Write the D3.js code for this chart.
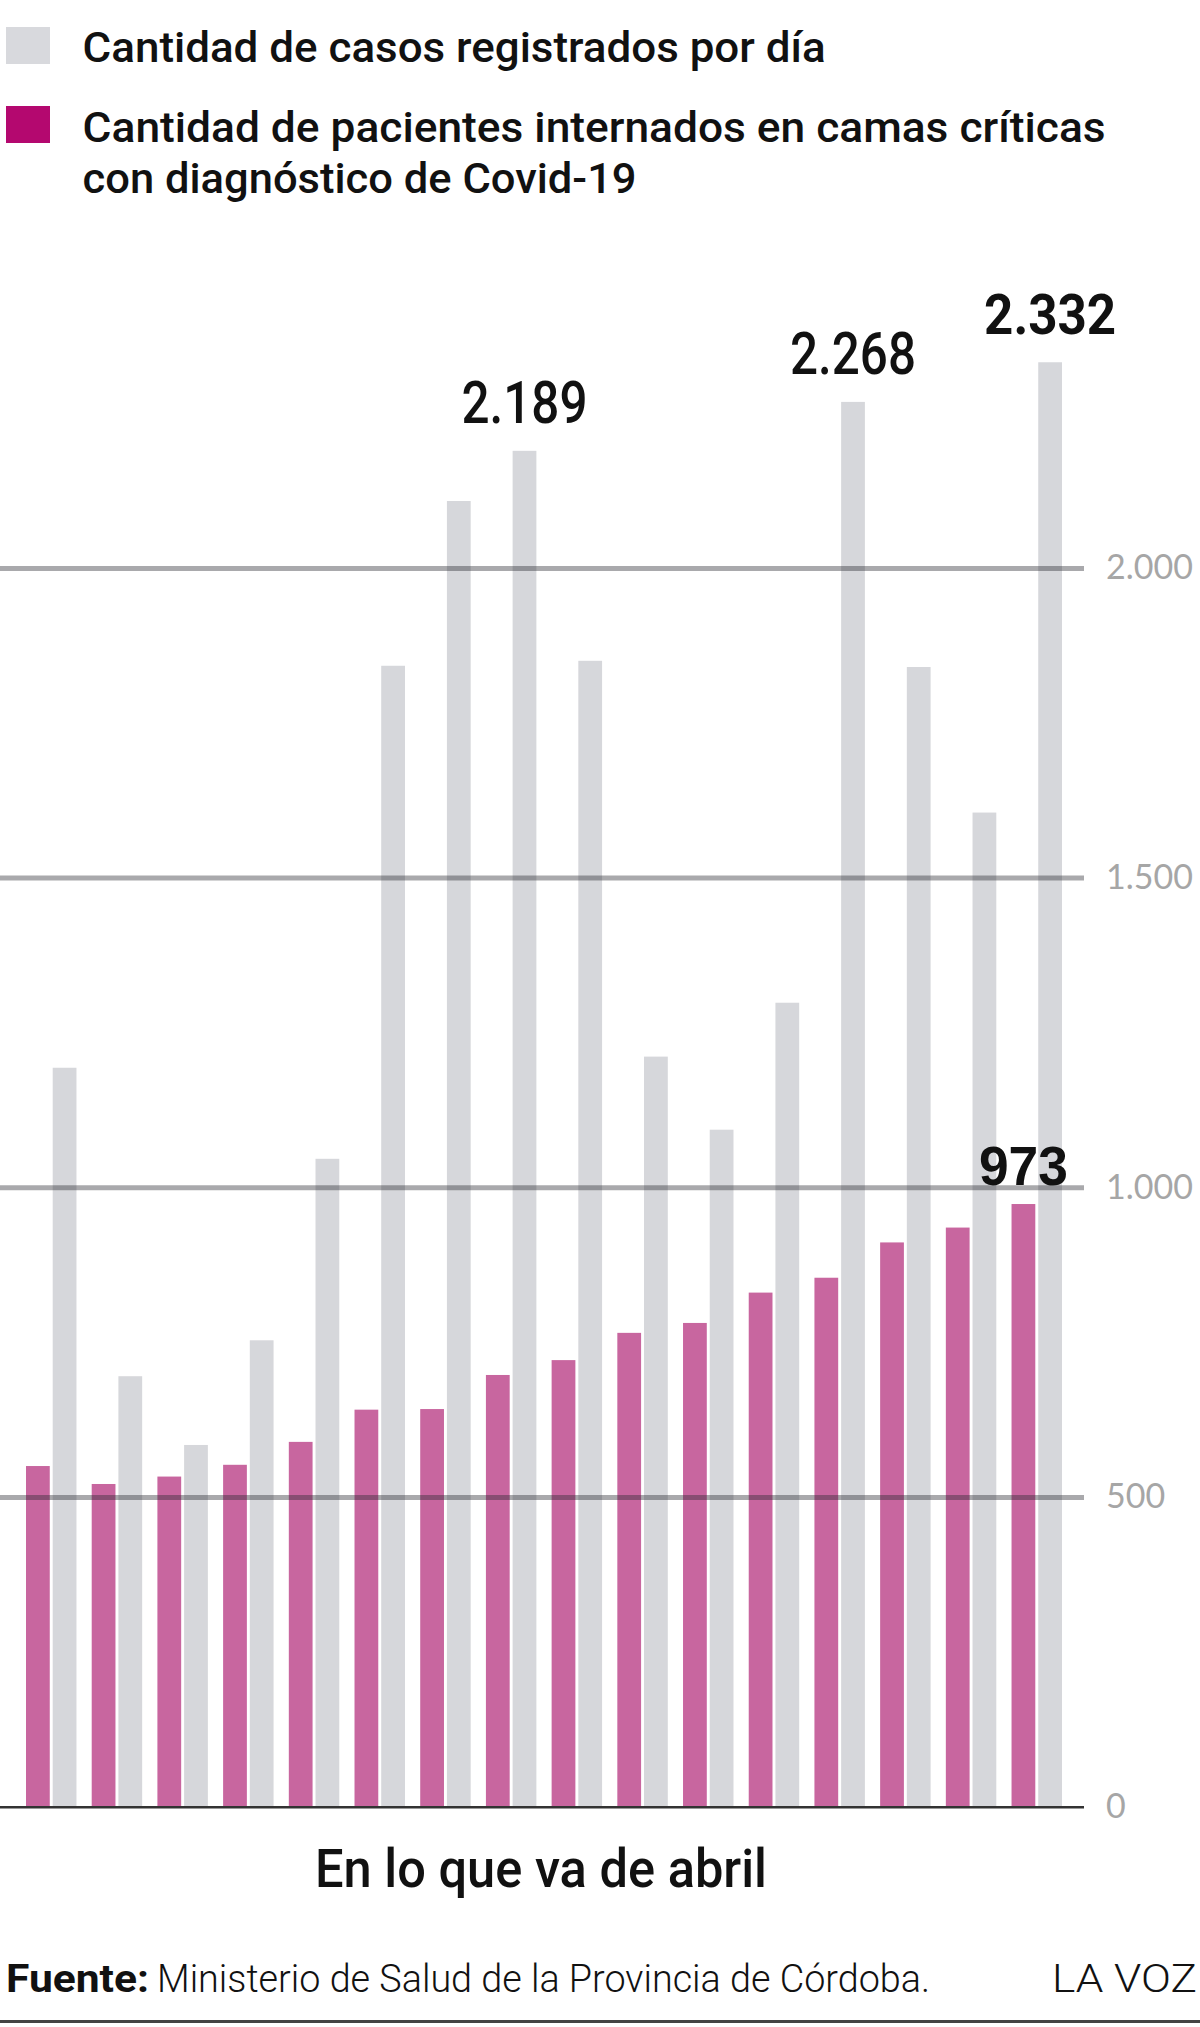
<!DOCTYPE html>
<html>
<head>
<meta charset="utf-8">
<script src="https://cdn.jsdelivr.net/npm/d3@7"></script>
<style>
  body { margin: 0; background: #fff; }
  svg { display: block; }
</style>
</head>
<body>
<div id="chart"></div>
<script>
// días de abril (una barra doble por día)
var days = ["1", "2", "3", "4", "5", "6", "7", "8", "9", "10", "11", "12", "13", "14", "15", "16"];
// casos registrados por día
var cases = [1193, 695, 584, 753, 1046, 1842, 2108, 2189, 1850, 1211, 1093, 1298, 2268, 1840, 1605, 2332];
// pacientes internados en camas críticas
var critical = [550, 521, 533, 552, 589, 641, 642, 697, 721, 765, 781, 830, 854, 911, 935, 973];
// valores destacados con etiqueta
var casesLabelled = ["8", "13", "16"];
var criticalLabelled = ["16"];
var yTicks = [0, 500, 1000, 1500, 2000];

var legendItems = [
  {key: "cases", lines: ["Cantidad de casos registrados por día"]},
  {key: "critical", lines: ["Cantidad de pacientes internados en camas críticas", "con diagnóstico de Covid-19"]}
];
var xTitle = "En lo que va de abril";
var sourceLabel = "Fuente:";
var sourceText = "Ministerio de Salud de la Provincia de Córdoba.";
var brand = "LA VOZ";

var width = 1200, height = 2027;
var colors = {cases: "#d6d7db", critical: "#c8669f", legendCritical: "#b4086f", legendCases: "#d8d9dd"};

var esLocale = d3.formatLocale({decimal: ",", thousands: ".", grouping: [3], currency: ["$", ""]});
var fmt = esLocale.format(",d");

var svg = d3.select("#chart").append("svg").attr("width", width).attr("height", height);

var chartLeft = 0, chartRight = 1084, baseY = 1806.7, topY = 567.9;

var x = d3.scaleBand().domain(days).range([26, 1062]).paddingInner(0.232).paddingOuter(0);
var xInner = d3.scaleBand().domain(["critical", "cases"]).range([0, x.bandwidth()]).paddingInner(0.11);
var y = d3.scaleLinear().domain([0, 2000]).range([baseY, topY]);

// barras grises: casos
svg.append("g").selectAll("rect")
   .data(days).enter().append("rect")
   .attr("x", function(d){ return x(d) + xInner("cases"); })
   .attr("width", xInner.bandwidth())
   .attr("y", function(d, i){ return y(cases[i]); })
   .attr("height", function(d, i){ return baseY - y(cases[i]); })
   .attr("fill", colors.cases);

// barras rosas: camas críticas
svg.append("g").selectAll("rect")
   .data(days).enter().append("rect")
   .attr("x", function(d){ return x(d) + xInner("critical"); })
   .attr("width", xInner.bandwidth())
   .attr("y", function(d, i){ return y(critical[i]); })
   .attr("height", function(d, i){ return baseY - y(critical[i]); })
   .attr("fill", colors.critical);

// eje y a la derecha, con las líneas de grilla encima de las barras
var yAxis = d3.axisRight(y).tickValues(yTicks).tickFormat(fmt)
              .tickSizeInner(-(chartRight - chartLeft)).tickSizeOuter(0).tickPadding(22);
var axisG = svg.append("g").attr("transform", "translate(" + chartRight + ",0)").call(yAxis);
axisG.select(".domain").remove();
axisG.selectAll(".tick line")
     .attr("stroke", "#282830").attr("stroke-opacity", 0.4).attr("stroke-width", 5);
axisG.selectAll(".tick").filter(function(d){ return d === 0; }).select("line")
     .attr("stroke", "#333").attr("stroke-opacity", 1).attr("stroke-width", 2.5);
axisG.selectAll(".tick text")
     .attr("fill", "#a6a6a6").attr("font-family", "Lato, 'Open Sans', sans-serif")
     .attr("font-weight", 400).attr("font-size", 34);

// etiquetas de valores
svg.append("g").selectAll("text")
   .data(casesLabelled).enter().append("text")
   .attr("x", function(d){ return x(d) + xInner("cases") + xInner.bandwidth() / 2; })
   .attr("y", function(d){ return y(cases[days.indexOf(d)]) - 28; })
   .attr("text-anchor", "middle")
   .attr("font-family", "Roboto, 'Liberation Sans', sans-serif")
   .attr("font-weight", function(d, i){ return i === casesLabelled.length - 1 ? 700 : 500; })
   .attr("font-size", function(d, i){ return i === casesLabelled.length - 1 ? 56 : 60; })
   .attr("textLength", function(d, i){ return i === casesLabelled.length - 1 ? 132 : 126; })
   .attr("lengthAdjust", "spacingAndGlyphs")
   .attr("fill", "#111")
   .text(function(d){ return fmt(cases[days.indexOf(d)]); });

svg.append("g").selectAll("text")
   .data(criticalLabelled).enter().append("text")
   .attr("x", function(d){ return x(d) + xInner("critical") + xInner.bandwidth() / 2; })
   .attr("y", function(d){ return y(critical[days.indexOf(d)]) - 19; })
   .attr("text-anchor", "middle")
   .attr("font-family", "'Liberation Sans', Arial, sans-serif")
   .attr("font-weight", 700).attr("font-size", 55)
   .attr("textLength", 89).attr("lengthAdjust", "spacingAndGlyphs")
   .attr("fill", "#111")
   .text(function(d){ return fmt(critical[days.indexOf(d)]); });

// leyenda
var legendTops = [27, 106];
var legendBaselines = [[61.7], [141.7, 193.3]];
var legendWidths = [[743], [1023, 554]];
var legend = svg.append("g");
legendItems.forEach(function(item, i){
  legend.append("rect").attr("x", 6).attr("y", legendTops[i]).attr("width", 44).attr("height", 37)
        .attr("fill", item.key === "cases" ? colors.legendCases : colors.legendCritical);
  item.lines.forEach(function(line, j){
    legend.append("text").attr("x", 82.6).attr("y", legendBaselines[i][j])
          .attr("font-family", "Roboto, 'Open Sans', sans-serif").attr("font-weight", 500)
          .attr("font-size", 43).attr("fill", "#111")
          .attr("textLength", legendWidths[i][j]).attr("lengthAdjust", "spacingAndGlyphs")
          .text(line);
  });
});

// título del eje x
svg.append("text").attr("x", 541).attr("y", 1886.7).attr("text-anchor", "middle")
   .attr("font-family", "Roboto, 'Open Sans', sans-serif").attr("font-weight", 500)
   .attr("font-size", 53).attr("fill", "#111")
   .attr("textLength", 452).attr("lengthAdjust", "spacingAndGlyphs")
   .text(xTitle);

// fuente
svg.append("text").attr("x", 6).attr("y", 1991.7)
   .attr("font-family", "Roboto, 'Open Sans', sans-serif").attr("font-weight", 700)
   .attr("font-size", 39).attr("fill", "#111")
   .attr("textLength", 143).attr("lengthAdjust", "spacingAndGlyphs")
   .text(sourceLabel);
svg.append("text").attr("x", 157).attr("y", 1991.7)
   .attr("font-family", "Roboto, 'Open Sans', sans-serif").attr("font-weight", 300)
   .attr("font-size", 38).attr("fill", "#111")
   .attr("textLength", 773).attr("lengthAdjust", "spacingAndGlyphs")
   .text(sourceText);
svg.append("text").attr("x", 1052).attr("y", 1991.7)
   .attr("font-family", "Roboto, 'Open Sans', sans-serif").attr("font-weight", 300)
   .attr("font-size", 39).attr("fill", "#111")
   .attr("textLength", 145).attr("lengthAdjust", "spacingAndGlyphs")
   .text(brand);
svg.append("line").attr("x1", 0).attr("x2", width).attr("y1", 2021.5).attr("y2", 2021.5)
   .attr("stroke", "#444").attr("stroke-width", 3);
</script>
</body>
</html>
